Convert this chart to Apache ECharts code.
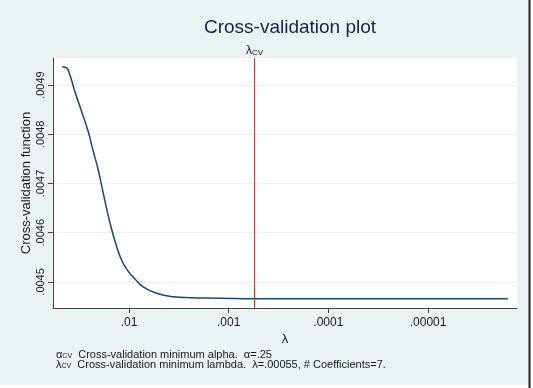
<!DOCTYPE html>
<html>
<head>
<meta charset="utf-8">
<script src="https://cdn.jsdelivr.net/npm/echarts@6/dist/echarts.min.js"></script>
<style>
html,body{margin:0;padding:0;background:#ffffff;}
#chart{width:533px;height:388px;}
</style>
</head>
<body>
<div id="chart"></div>
<script>
// lambda values (decreasing) and cross-validation function values
var lambdaValues = [0.0467, 0.0429, 0.0391, 0.0348, 0.0298, 0.0256, 0.0230, 0.0203, 0.0181, 0.0155, 0.0133, 0.0117, 0.0102, 0.00880, 0.00719, 0.00528, 0.00360, 0.00244, 0.00122, 0.00055, 0.0000607, 0.00000158];
var cvValues = [0.004937, 0.004936, 0.004920, 0.004886, 0.004846, 0.004805, 0.004768, 0.004727, 0.004680, 0.004620, 0.004572, 0.004542, 0.004522, 0.004507, 0.004490, 0.004477, 0.004470, 0.004468, 0.004467, 0.004466, 0.004466, 0.004466];
var xTickValues = [0.01, 0.001, 0.0001, 0.00001];
var xTickLabels = ['.01', '.001', '.0001', '.00001'];
var yTickValues = [0.0045, 0.0046, 0.0047, 0.0048, 0.0049];
var yTickLabels = ['.0045', '.0046', '.0047', '.0048', '.0049'];
var lambdaCV = 0.00055;
var alphaCV = '.25';
var nCoef = 7;

var lg = function (v) { return Math.log10(v); };
var seriesData = lambdaValues.map(function (l, i) { return [lg(l), cvValues[i]]; });
var xLabelMap = {};
xTickValues.forEach(function (v, i) { xLabelMap[lg(v).toFixed(3)] = xTickLabels[i]; });
var yLabelMap = {};
yTickValues.forEach(function (v, i) { yLabelMap[v.toFixed(5)] = yTickLabels[i]; });

var textColor = '#1a1a1a';
var chart = echarts.init(document.getElementById('chart'), null, {renderer: 'canvas'});
chart.setOption({
  animation: false,
  backgroundColor: '#ffffff',
  graphic: [
    {type: 'rect', z: -10, shape: {x: 0, y: 0, width: 529, height: 385}, style: {fill: '#eaf2f3'}, silent: true},
    {type: 'rect', z: -9, shape: {x: 53, y: 58, width: 464, height: 250}, style: {fill: '#ffffff'}, silent: true},
    {type: 'line', z: 10, shape: {x1: 529.5, y1: 0, x2: 529.5, y2: 388}, style: {stroke: '#222', lineWidth: 2}, silent: true},
    {type: 'text', left: 56, top: 349, style: {
      text: '{g|α}{s|CV}{t|  Cross-validation minimum alpha.  α=' + alphaCV + '}',
      rich: {
        g: {fontFamily: 'Liberation Sans', fontSize: 11, fill: textColor, verticalAlign: 'bottom', lineHeight: 11},
        s: {fontFamily: 'Liberation Sans', fontSize: 7, fill: textColor, verticalAlign: 'bottom', lineHeight: 9},
        t: {fontFamily: 'Liberation Sans', fontSize: 11, fill: textColor, verticalAlign: 'bottom', lineHeight: 11}
      }
    }},
    {type: 'text', left: 56, top: 359, style: {
      text: '{g|λ}{s|CV}{t|  Cross-validation minimum lambda.  λ=' + String(lambdaCV).replace(/^0/, '') + ', # Coefficients=' + nCoef + '.}',
      rich: {
        g: {fontFamily: 'Liberation Sans', fontSize: 11, fill: textColor, verticalAlign: 'bottom', lineHeight: 11},
        s: {fontFamily: 'Liberation Sans', fontSize: 7, fill: textColor, verticalAlign: 'bottom', lineHeight: 9},
        t: {fontFamily: 'Liberation Sans', fontSize: 11, fill: textColor, verticalAlign: 'bottom', lineHeight: 11}
      }
    }}
  ],
  title: {
    text: 'Cross-validation plot',
    left: 285, top: 13, textAlign: 'center',
    textStyle: {fontFamily: 'Liberation Sans', fontWeight: 'normal', fontSize: 19, color: '#1c1f48'}
  },
  grid: {left: 53, right: 16, top: 58, bottom: 80, containLabel: false},
  xAxis: {
    type: 'value', inverse: true,
    min: -5.892, max: -1.238,
    name: 'λ', nameLocation: 'middle', nameGap: 25, nameMoveOverlap: false,
    nameTextStyle: {fontFamily: 'Liberation Sans', fontSize: 13, color: textColor},
    axisLine: {show: true, lineStyle: {color: '#444', width: 1}},
    axisTick: {show: true, length: 5, lineStyle: {color: '#444'}, customValues: xTickValues.map(lg)},
    axisLabel: {
      customValues: xTickValues.map(lg), margin: 9,
      fontFamily: 'Liberation Sans', fontSize: 12, color: textColor,
      formatter: function (v) { return xLabelMap[v.toFixed(3)] || ''; }
    },
    splitLine: {show: false}
  },
  yAxis: {
    type: 'value',
    min: 0.004447, max: 0.004955,
    name: 'Cross-validation function', nameLocation: 'middle', nameGap: 20, nameRotate: 90, nameMoveOverlap: false,
    nameTextStyle: {fontFamily: 'Liberation Sans', fontSize: 13, color: textColor},
    axisLine: {show: true, lineStyle: {color: '#444', width: 1}},
    axisTick: {show: true, length: 5, lineStyle: {color: '#444'}, customValues: yTickValues},
    axisLabel: {
      customValues: yTickValues, rotate: 90, margin: 7,
      fontFamily: 'Liberation Sans', fontSize: 11, color: textColor,
      formatter: function (v) { return yLabelMap[v.toFixed(5)] || ''; }
    },
    splitLine: {show: true, lineStyle: {color: '#eaf2f3', width: 1}}
  },
  series: [{
    type: 'line',
    data: seriesData,
    showSymbol: false,
    smooth: 0.5,
    lineStyle: {color: '#1a476f', width: 1.5},
    markLine: {
      silent: true,
      symbol: 'none',
      lineStyle: {color: '#ff2020', width: 1, type: 'solid'},
      label: {
        show: true, position: 'end', distance: 1,
        formatter: '{g|λ}{s|CV}',
        rich: {
          g: {fontFamily: 'Liberation Sans', fontSize: 12, color: textColor, verticalAlign: 'bottom', lineHeight: 12},
          s: {fontFamily: 'Liberation Sans', fontSize: 8, color: textColor, verticalAlign: 'bottom', lineHeight: 10}
        }
      },
      data: [{xAxis: lg(lambdaCV)}]
    }
  }]
});
</script>
</body>
</html>
